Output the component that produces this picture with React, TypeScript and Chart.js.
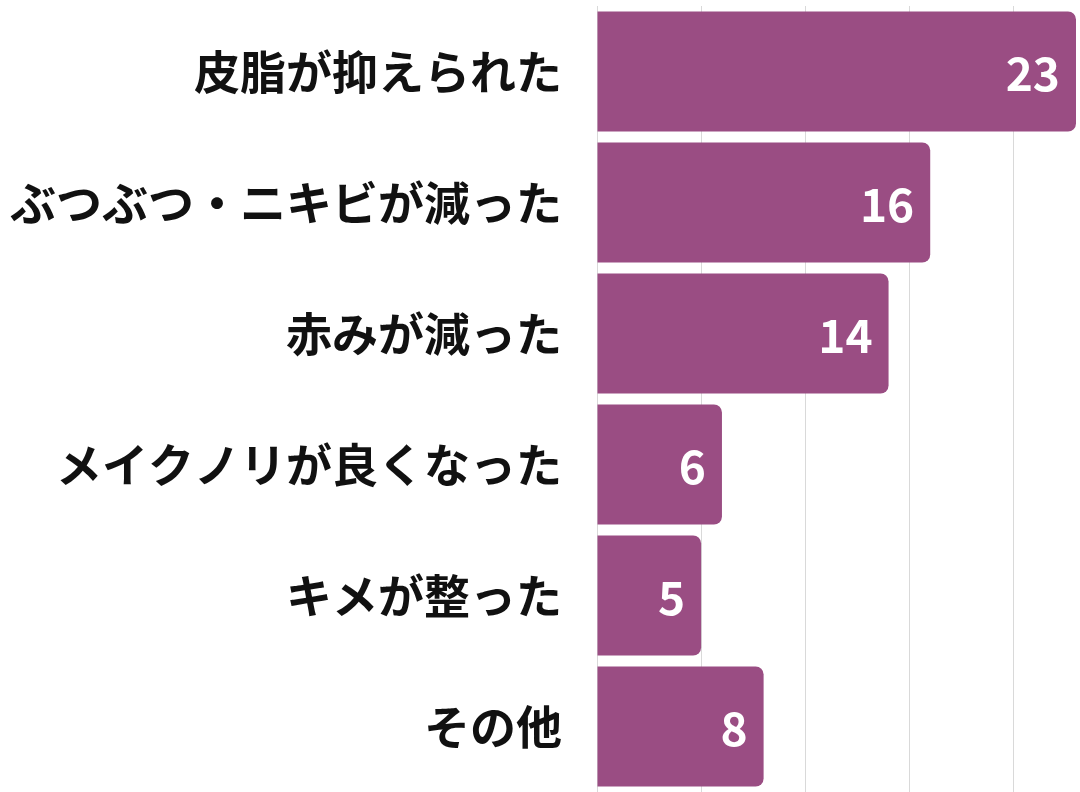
import React, { useEffect, useRef } from "react";
import { Chart, registerables } from "chart.js";

Chart.register(...registerables);

const categories = [
  "皮脂が抑えられた",
  "ぶつぶつ・ニキビが減った",
  "赤みが減った",
  "メイクノリが良くなった",
  "キメが整った",
  "その他",
];
const values = [23, 16, 14, 6, 5, 8];
const axisMax = 23;
const gridStep = 5;

const FONT = '"Noto Sans CJK JP", "Noto Sans", sans-serif';

const valueLabelPlugin = {
  id: "valueLabels",
  afterDatasetsDraw(chart: any) {
    const ctx = chart.ctx;
    const meta = chart.getDatasetMeta(0);
    ctx.save();
    ctx.fillStyle = "#ffffff";
    ctx.font = `bold 46px ${FONT}`;
    ctx.textAlign = "right";
    ctx.textBaseline = "middle";
    meta.data.forEach((bar: any, i: number) => {
      ctx.fillText(String(values[i]), bar.x - 16, bar.y + 2);
    });
    ctx.restore();
  },
};

export default function App() {
  const ref = useRef<HTMLCanvasElement | null>(null);
  useEffect(() => {
    document.body.style.margin = "0";
    const chart = new Chart(ref.current as HTMLCanvasElement, {
      type: "bar",
      data: {
        labels: categories,
        datasets: [
          {
            data: values,
            backgroundColor: "#9a4d83",
            borderRadius: { topRight: 8, bottomRight: 8, topLeft: 0, bottomLeft: 0 },
            borderSkipped: "start",
            categoryPercentage: 0.916,
            barPercentage: 1,
          },
        ],
      },
      options: {
        indexAxis: "y",
        animation: false,
        responsive: false,
        maintainAspectRatio: false,
        layout: { padding: { top: 6, right: 4, bottom: 0, left: 0 } },
        plugins: { legend: { display: false }, tooltip: { enabled: false } },
        scales: {
          x: {
            min: 0,
            max: axisMax,
            ticks: { display: false, stepSize: gridStep },
            afterBuildTicks: (scale: any) => {
              scale.ticks = scale.ticks.filter((t: any) => t.value % gridStep === 0);
            },
            afterFit: (scale: any) => {
              scale.height = 0;
              scale.paddingLeft = 0;
              scale.paddingRight = 0;
            },
            grid: { color: "#d9d9d9", lineWidth: 1, drawTicks: false },
            border: { display: false },
          },
          y: {
            afterFit: (scale: any) => {
              scale.width = 597;
              scale.paddingTop = 0;
              scale.paddingBottom = 0;
            },
            ticks: {
              color: "#111111",
              font: { family: FONT, size: 46, weight: "bold" },
              padding: 35,
            },
            grid: { display: false, drawTicks: false },
            border: { display: false },
          },
        },
      },
      plugins: [valueLabelPlugin],
    } as any);
    return () => chart.destroy();
  }, []);
  return (
    <div style={{ width: 1080, height: 792 }}>
      <canvas ref={ref} width={1080} height={792} style={{ display: "block" }} />
    </div>
  );
}
